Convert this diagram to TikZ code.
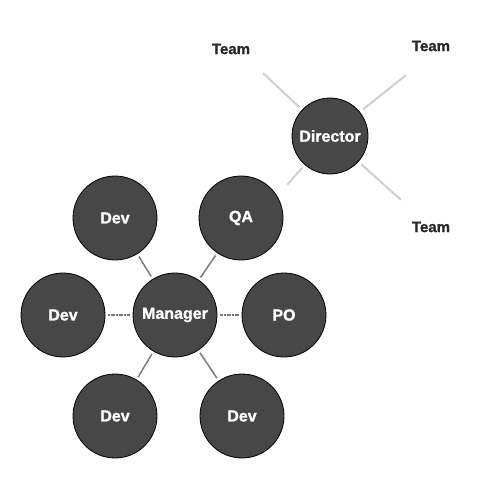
\documentclass[tikz,border=0pt]{standalone}
\usepackage{fontspec}
\setmainfont{Liberation Sans}[BoldFeatures={FakeBold=1.3}]
\begin{document}
\begin{tikzpicture}[x=1pt,y=-1pt,
  person/.style={circle,draw=black,line width=0.8pt,fill={rgb,255:red,71;green,71;blue,71},
    minimum size=84pt,inner sep=0pt,text=white,font=\fontsize{16}{18}\selectfont\bfseries},
  boss/.style={person,minimum size=76pt},
  teamlbl/.style={text={rgb,255:red,40;green,40;blue,40},font=\fontsize{15}{17}\selectfont\bfseries},
  link/.style={draw={rgb,255:red,120;green,120;blue,120},line width=1.6pt,dash pattern=on 1.2pt off 0.4pt,shorten >=3pt,shorten <=3pt},
  tlink/.style={draw={rgb,255:red,205;green,205;blue,205},line width=2pt,dash pattern=on 1.5pt off 0.4pt}]
\useasboundingbox (0,0) rectangle (478,493);
\node[person] (mgr) at (175,315) {Manager};
\node[person] (dev1) at (115,218) {Dev};
\node[person] (qa) at (241,218) {QA};
\node[person] (dev2) at (63,315) {Dev};
\node[person] (po) at (284,315) {PO};
\node[person] (dev3) at (115,416) {Dev};
\node[person] (dev4) at (242,416) {Dev};
\node[boss] (dir) at (330,136) {Director};
\node[teamlbl] (t1) at (231,49) {Team};
\node[teamlbl] (t2) at (431,46) {Team};
\node[teamlbl] (t3) at (431,227) {Team};
\draw[link] (mgr) -- (dev1);
\draw[link] (mgr) -- (qa);
\draw[link] (mgr) -- (dev2);
\draw[link] (mgr) -- (po);
\draw[link] (mgr) -- (dev3);
\draw[link] (mgr) -- (dev4);
\coordinate (e1) at (263,73);
\coordinate (e2) at (406,75);
\coordinate (e3) at (287,185);
\coordinate (e4) at (401,200);
\draw[tlink,shorten <=4pt] (dir) -- (e1);
\draw[tlink,shorten <=4pt] (dir) -- (e2);
\draw[tlink,shorten <=4pt] (dir) -- (e3);
\draw[tlink,shorten <=4pt] (dir) -- (e4);
\end{tikzpicture}
\end{document}
